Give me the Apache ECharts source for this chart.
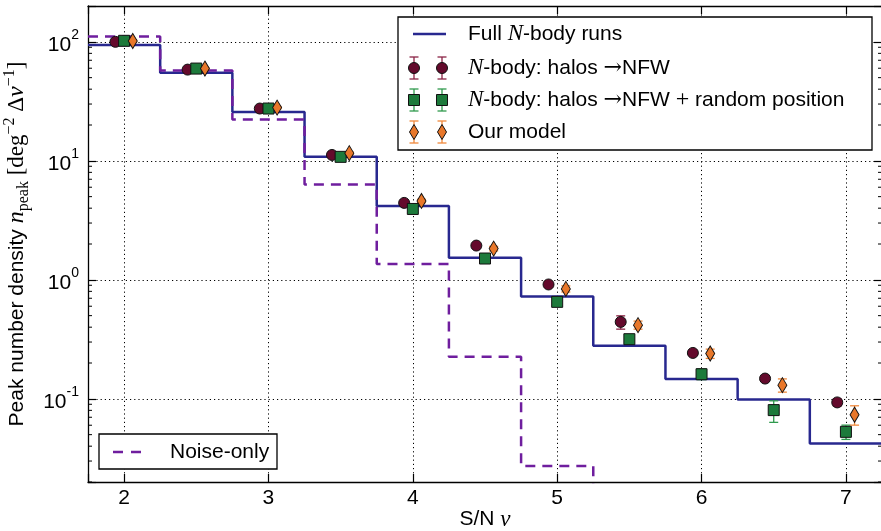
<!DOCTYPE html>
<html><head><meta charset="utf-8">
<script src="https://cdn.jsdelivr.net/npm/echarts@6/dist/echarts.min.js"></script>
<style>html,body{margin:0;padding:0;background:#fff}#c{width:881px;height:531px}</style>
</head><body><div id="c"></div>
<script>
// ---------------- data ----------------
const binCenters = [2, 2.5, 3, 3.5, 4, 4.5, 5, 5.5, 6, 6.5, 7];
const binEdges = [1.75, 2.25, 2.75, 3.25, 3.75, 4.25, 4.75, 5.25, 5.75, 6.25, 6.75, 7.25];
const fullNbody = [94, 55.1, 25.7, 10.8, 4.18, 1.53, 0.724, 0.279, 0.1466, 0.0989, 0.0422];
const noiseEdges = [1.75, 2.25, 2.75, 3.25, 3.75, 4.25, 4.75, 5.25];
const noiseOnly = [111, 57.3, 22.2, 6.32, 1.36, 0.2254, 0.0272];

const halosNFW    = [100, 58.4, 27.5, 11.2, 4.43, 1.94, 0.914, 0.443, 0.243, 0.148, 0.0933];
const halosNFWLo  = [98, 57.5, 27.0, 10.9, 4.30, 1.87, 0.88, 0.385, 0.232, 0.140, 0.087];
const halosNFWHi  = [102, 59.3, 28.0, 11.5, 4.56, 2.01, 0.95, 0.498, 0.255, 0.157, 0.100];

const randomPos   = [102, 59.6, 27.5, 10.8, 3.94, 1.51, 0.653, 0.317, 0.161, 0.0804, 0.0528];
const randomPosLo = [100, 58.7, 27.0, 10.5, 3.80, 1.44, 0.62, 0.29, 0.145, 0.0634, 0.0456];
const randomPosHi = [104, 60.5, 28.0, 11.1, 4.08, 1.58, 0.69, 0.345, 0.178, 0.0962, 0.0601];

const ourModel    = [101.6, 59.6, 28.0, 11.6, 4.60, 1.83, 0.839, 0.416, 0.2404, 0.1303, 0.0735];
const ourModelLo  = [99.5, 58.5, 27.4, 11.3, 4.45, 1.75, 0.79, 0.385, 0.2185, 0.1138, 0.0601];
const ourModelHi  = [103.5, 60.7, 28.6, 11.9, 4.75, 1.91, 0.89, 0.45, 0.2616, 0.147, 0.0874];

const xRange = [1.75, 7.25];
const yRange = [0.02, 200];
const yMinorTicks = [0.02,0.03,0.04,0.05,0.06,0.07,0.08,0.09,
  0.2,0.3,0.4,0.5,0.6,0.7,0.8,0.9, 2,3,4,5,6,7,8,9, 20,30,40,50,60,70,80,90];

// ---------------- styles ----------------
const FONT = 'Liberation Sans';
const SERIF = 'Liberation Serif';
const C_BLUE = '#28288f', C_PURPLE = '#6f1e9e';
const C_RED = '#640a2c', C_RED_E = '#8a2345';
const C_GREEN = '#1d7a3b', C_GREEN_E = '#2f9a4d';
const C_ORANGE = '#e8772a', C_ORANGE_E = '#f0893c';
const DODGE = 0.06;

function stepData(edges, vals) {
  return edges.map((e, i) => [e, vals[Math.min(i, vals.length - 1)]]);
}
function errData(dx, lo, hi) {
  return binCenters.map((c, i) => [c + dx, lo[i], hi[i]]);
}
function ptData(dx, v) { return binCenters.map((c, i) => [c + dx, v[i]]); }

function errSeries(data, color) {
  return {
    type: 'custom', data, encode: { x: 0, y: [1, 2] }, z: 3, silent: true,
    renderItem(params, api) {
      const x = api.value(0);
      const p1 = api.coord([x, api.value(1)]);
      const p2 = api.coord([x, api.value(2)]);
      const st = { stroke: color, lineWidth: 1.3 };
      return { type: 'group', children: [
        { type: 'line', shape: { x1: p1[0], y1: p1[1], x2: p2[0], y2: p2[1] }, style: st },
        { type: 'line', shape: { x1: p1[0] - 4.5, y1: p1[1], x2: p1[0] + 4.5, y2: p1[1] }, style: st },
        { type: 'line', shape: { x1: p2[0] - 4.5, y1: p2[1], x2: p2[0] + 4.5, y2: p2[1] }, style: st }
      ]};
    }
  };
}

const supRich = {
  b: { fontSize: 21, fontFamily: FONT, color: '#000', lineHeight: 28, verticalAlign: 'bottom' },
  s: { fontSize: 14, fontFamily: FONT, color: '#000', lineHeight: 14, verticalAlign: 'top' }
};
function yFmt(v) {
  const l = Math.log10(v), e = Math.round(l);
  if (Math.abs(l - e) > 1e-6) return '';
  return '{b|10}{s|' + (e < 0 ? '-' + (-e) : e) + '}';
}

const axisLine = { show: true, onZero: false, lineStyle: { color: '#000', width: 1.3 } };
const tickIn = { show: true, inside: true, length: 8, lineStyle: { color: '#000', width: 1.2 } };
const gridLine = { show: true, lineStyle: { color: '#000', width: 1, type: [1.2, 3] } };

const chart = echarts.init(document.getElementById('c'));

const legendText = {
  t: { fontSize: 21, fontFamily: FONT, color: '#000' },
  i: { fontSize: 23, fontFamily: SERIF, fontStyle: 'italic', color: '#000' },
  a: { fontSize: 22, fontFamily: 'DejaVu Serif', color: '#000' },
  m: { fontSize: 24, fontFamily: SERIF, color: '#000' }
};

function legendMarkers(y, kind, fill, ecol) {
  const out = [];
  [414, 442].forEach(x => {
    out.push({ type: 'line', shape: { x1: x, y1: y - 11, x2: x, y2: y + 11 }, style: { stroke: ecol, lineWidth: 1.3 }, z: 100 });
    out.push({ type: 'line', shape: { x1: x - 4.5, y1: y - 11, x2: x + 4.5, y2: y - 11 }, style: { stroke: ecol, lineWidth: 1.3 }, z: 100 });
    out.push({ type: 'line', shape: { x1: x - 4.5, y1: y + 11, x2: x + 4.5, y2: y + 11 }, style: { stroke: ecol, lineWidth: 1.3 }, z: 100 });
    if (kind === 'circle') out.push({ type: 'circle', shape: { cx: x, cy: y, r: 5.5 }, style: { fill, stroke: '#111', lineWidth: 1 }, z: 101 });
    if (kind === 'rect') out.push({ type: 'rect', shape: { x: x - 5.5, y: y - 5.5, width: 11, height: 11 }, style: { fill, stroke: '#111', lineWidth: 1 }, z: 101 });
    if (kind === 'diamond') out.push({ type: 'polygon', shape: { points: [[x, y - 7.5], [x + 4.5, y], [x, y + 7.5], [x - 4.5, y]] }, style: { fill, stroke: '#111', lineWidth: 1 }, z: 101 });
  });
  return out;
}

const graphics = [
  { type: 'rect', shape: { x: 398, y: 17, width: 474, height: 133 }, style: { fill: '#fff', stroke: '#000', lineWidth: 1.3 }, z: 99 },
  { type: 'line', shape: { x1: 413, y1: 34, x2: 446, y2: 34 }, style: { stroke: C_BLUE, lineWidth: 2.5 }, z: 100 },
  { type: 'text', x: 468, y: 34, z: 100, style: { text: '{t|Full }{i|N}{t|-body runs}', rich: legendText, verticalAlign: 'middle' } },
  ...legendMarkers(68, 'circle', C_RED, C_RED_E),
  { type: 'text', x: 468, y: 68, z: 100, style: { text: '{i|N}{t|-body: halos }{a|→}{t|NFW}', rich: legendText, verticalAlign: 'middle' } },
  ...legendMarkers(100, 'rect', C_GREEN, C_GREEN_E),
  { type: 'text', x: 468, y: 100, z: 100, style: { text: '{i|N}{t|-body: halos }{a|→}{t|NFW }{m|+}{t| random position}', rich: legendText, verticalAlign: 'middle' } },
  ...legendMarkers(132, 'diamond', C_ORANGE, C_ORANGE_E),
  { type: 'text', x: 468, y: 132, z: 100, style: { text: 'Our model', fontSize: 21, fontFamily: FONT, fill: '#000', verticalAlign: 'middle' } },

  { type: 'rect', shape: { x: 99, y: 434, width: 178, height: 35 }, style: { fill: '#fff', stroke: '#000', lineWidth: 1.3 }, z: 99 },
  { type: 'line', shape: { x1: 113, y1: 452, x2: 142, y2: 452 }, style: { stroke: C_PURPLE, lineWidth: 2.5, lineDash: [10, 8] }, z: 100 },
  { type: 'text', x: 170, y: 452, z: 100, style: { text: 'Noise-only', fontSize: 21, fontFamily: FONT, fill: '#000', verticalAlign: 'middle' } }
];

const option = {
  animation: false,
  backgroundColor: '#fff',
  grid: { left: 88, top: 6, width: 794, height: 476, containLabel: false, outerBoundsMode: 'none' },
  xAxis: [
    { type: 'value', min: xRange[0], max: xRange[1], position: 'bottom',
      axisLine, axisTick: tickIn, splitLine: gridLine,
      axisLabel: { fontSize: 21, fontFamily: FONT, color: '#000', margin: 6,
        formatter: v => (Math.abs(v - Math.round(v)) < 1e-9 ? String(Math.round(v)) : '') },
      name: '{t|S/N }{i|ν}', nameLocation: 'middle', nameGap: 26, nameMoveOverlap: false,
      nameTextStyle: { rich: { t: { fontSize: 21, fontFamily: FONT, color: '#000' }, i: { fontSize: 23, fontFamily: SERIF, fontStyle: 'italic', color: '#000' } } } },
    { type: 'value', min: xRange[0], max: xRange[1], position: 'top',
      axisLine, axisTick: tickIn, splitLine: { show: false }, axisLabel: { show: false } }
  ],
  yAxis: [
    { type: 'log', logBase: 10, min: yRange[0], max: yRange[1], position: 'left',
      axisLine, axisTick: tickIn, splitLine: gridLine,
      axisLabel: { margin: 9, formatter: yFmt, rich: supRich },
      name: '{t|Peak number density }{i|n}{sb|peak}{m| [deg}{sp|−2}{m| Δ}{i|ν}{sp|−1}{m|]}',
      nameLocation: 'middle', nameGap: 56,
      nameTextStyle: { rich: {
        t: { fontSize: 21, fontFamily: FONT, color: '#000', lineHeight: 30, verticalAlign: 'middle' },
        i: { fontSize: 24, fontFamily: SERIF, fontStyle: 'italic', color: '#000', lineHeight: 30, verticalAlign: 'middle' },
        m: { fontSize: 23, fontFamily: SERIF, color: '#000', lineHeight: 30, verticalAlign: 'middle' },
        sb: { fontSize: 16, fontFamily: SERIF, color: '#000', lineHeight: 15, verticalAlign: 'bottom' },
        sp: { fontSize: 16, fontFamily: SERIF, color: '#000', lineHeight: 15, verticalAlign: 'top' }
      } } },
    { type: 'log', logBase: 10, min: yRange[0], max: yRange[1], position: 'right',
      axisLine, axisTick: tickIn, splitLine: { show: false }, axisLabel: { show: false } }
  ],
  graphic: { elements: graphics },
  series: [
    { name: 'Full N-body runs', type: 'line', step: 'end', data: stepData(binEdges, fullNbody),
      showSymbol: false, symbol: 'none', z: 2, lineStyle: { color: C_BLUE, width: 2.5 }, clip: true },
    { name: 'Noise-only', type: 'line', step: 'end',
      data: stepData(noiseEdges, noiseOnly).concat([[noiseEdges[noiseEdges.length - 1], 0.001]]),
      showSymbol: false, symbol: 'none', z: 2, lineStyle: { color: C_PURPLE, width: 2.5, type: [10, 7] }, clip: true },
    errSeries(errData(-DODGE, halosNFWLo, halosNFWHi), C_RED_E),
    { name: 'halos NFW', type: 'scatter', data: ptData(-DODGE, halosNFW), symbol: 'circle', symbolSize: 11, z: 4,
      itemStyle: { color: C_RED, borderColor: '#111', borderWidth: 1, opacity: 1 } },
    errSeries(errData(0, randomPosLo, randomPosHi), C_GREEN_E),
    { name: 'halos NFW random', type: 'scatter', data: ptData(0, randomPos), symbol: 'rect', symbolSize: 11, z: 4,
      itemStyle: { color: C_GREEN, borderColor: '#111', borderWidth: 1, opacity: 1 } },
    errSeries(errData(DODGE, ourModelLo, ourModelHi), C_ORANGE_E),
    { name: 'Our model', type: 'scatter', data: ptData(DODGE, ourModel), symbol: 'diamond', symbolSize: [9, 15], z: 4,
      itemStyle: { color: C_ORANGE, borderColor: '#111', borderWidth: 1, opacity: 1 } },
    { name: 'minor ticks', type: 'custom', silent: true, z: 5,
      data: yMinorTicks.map(v => [xRange[0], v]), encode: { x: 0, y: 1 },
      renderItem(params, api) {
        const cs = params.coordSys;
        const y = api.coord([xRange[0], api.value(1)])[1];
        const st = { stroke: '#000', lineWidth: 1 };
        return { type: 'group', children: [
          { type: 'line', shape: { x1: cs.x, y1: y, x2: cs.x + 4, y2: y }, style: st },
          { type: 'line', shape: { x1: cs.x + cs.width - 4, y1: y, x2: cs.x + cs.width, y2: y }, style: st }
        ]};
      } }
  ]
};
chart.setOption(option);
</script></body></html>
